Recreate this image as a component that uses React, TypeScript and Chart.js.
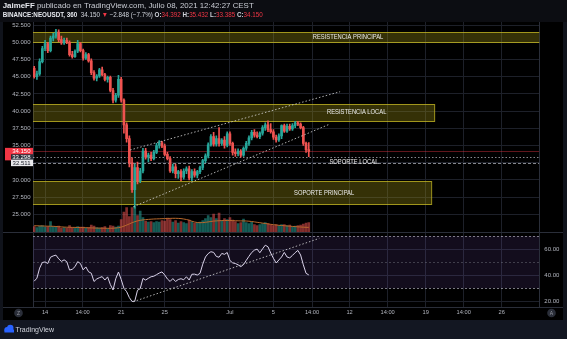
import React, { useEffect, useRef } from "react";
import { Chart, registerables } from "chart.js";

Chart.register(...registerables);

// ---------------- data ----------------
// x axis unit: day of June (July 1 = 31). Candles every 6 hours from June 13 00:00.
const firstCandleDay = 13;
const candleHours = 6;

const opens = [
  46.2, 45.0, 45.4, 47.2, 49.1, 49.8, 48.8, 50.6, 50.9, 51.5,
  50.4, 49.9, 50.3, 50.0, 48.2, 47.9, 48.7, 49.8, 48.8, 47.7,
  48.2, 47.3, 45.6, 44.8, 45.1, 46.0, 45.3, 44.6, 44.9, 43.0,
  41.6, 42.3, 44.6, 41.6, 38.0, 36.0, 32.5, 28.6, 31.8, 29.9,
  31.3, 34.2, 33.3, 33.6, 33.1, 34.0, 35.0, 35.4, 34.9, 33.7,
  33.1, 31.3, 31.9, 30.9, 31.2, 30.4, 31.3, 31.6, 30.3, 31.2,
  30.7, 31.2, 31.8, 32.8, 33.5, 35.1, 36.3, 35.2, 36.0, 35.3,
  35.8, 35.0, 36.7, 35.3, 34.0, 33.8, 34.2, 33.6, 34.6, 35.3,
  36.1, 36.9, 36.5, 36.3, 36.8, 37.6, 38.0, 37.3, 37.0, 36.2,
  35.8, 36.4, 37.9, 37.1, 37.8, 37.4, 37.9, 38.3, 38.1, 37.6,
  35.3, 34.392,
];
const highs = [
  46.5, 45.8, 47.6, 49.4, 50.3, 50.0, 50.9, 51.3, 51.9, 51.8,
  50.9, 50.6, 50.6, 50.2, 48.7, 48.9, 50.3, 50.0, 49.0, 48.5,
  48.4, 47.6, 45.9, 45.3, 46.2, 46.4, 45.5, 45.1, 45.1, 43.3,
  42.6, 45.2, 44.9, 41.8, 38.3, 36.4, 33.2, 32.3, 32.6, 31.7,
  34.6, 34.6, 33.9, 34.0, 34.3, 35.3, 35.7, 35.6, 35.2, 34.0,
  33.4, 32.3, 32.3, 31.4, 31.5, 31.6, 31.9, 32.0, 31.5, 31.6,
  31.4, 32.0, 33.0, 33.8, 35.4, 36.6, 36.9, 36.4, 37.6, 36.0,
  36.3, 37.0, 37.0, 35.5, 34.5, 34.5, 34.4, 34.8, 35.6, 36.4,
  37.2, 37.3, 37.0, 37.0, 37.9, 38.3, 38.6, 38.2, 37.3, 36.5,
  36.7, 38.0, 38.1, 38.1, 38.1, 38.2, 38.5, 38.5, 38.3, 37.8,
  35.5, 35.432,
];
const lows = [
  44.8, 44.6, 45.2, 47.0, 48.8, 48.5, 48.6, 50.2, 50.6, 50.1,
  49.7, 49.7, 49.8, 48.0, 47.7, 47.8, 48.5, 48.6, 47.4, 47.5,
  47.1, 45.3, 44.5, 44.4, 44.9, 45.1, 44.4, 44.2, 42.8, 41.2,
  41.3, 42.0, 41.3, 36.8, 35.5, 31.9, 28.2, 25.9, 29.4, 29.6,
  31.0, 33.0, 32.6, 32.8, 32.9, 33.8, 34.6, 34.7, 33.5, 32.9,
  31.1, 31.0, 30.3, 30.2, 29.9, 30.1, 30.9, 30.0, 29.9, 30.4,
  30.3, 30.9, 31.5, 32.5, 33.2, 34.9, 34.9, 34.9, 34.9, 35.0,
  34.6, 34.8, 35.0, 33.6, 33.4, 33.5, 33.3, 33.4, 34.3, 35.0,
  35.8, 36.2, 36.1, 36.0, 36.5, 37.2, 37.0, 36.8, 35.9, 35.5,
  35.6, 36.0, 36.9, 36.9, 37.2, 37.2, 37.6, 37.9, 37.4, 35.0,
  34.0, 33.385,
];
const closes = [
  45.0, 45.4, 47.2, 49.1, 49.8, 48.8, 50.6, 50.9, 51.5, 50.4,
  49.9, 50.3, 50.0, 48.2, 47.9, 48.7, 49.8, 48.8, 47.7, 48.2,
  47.3, 45.6, 44.8, 45.1, 46.0, 45.3, 44.6, 44.9, 43.0, 41.6,
  42.3, 44.6, 41.6, 38.0, 36.0, 32.5, 28.6, 31.8, 29.9, 31.3,
  34.2, 33.3, 33.6, 33.1, 34.0, 35.0, 35.4, 34.9, 33.7, 33.1,
  31.3, 31.9, 30.9, 31.2, 30.4, 31.3, 31.6, 30.3, 31.2, 30.7,
  31.2, 31.8, 32.8, 33.5, 35.1, 36.3, 35.2, 36.0, 35.3, 35.8,
  35.0, 36.7, 35.3, 34.0, 33.8, 34.2, 33.6, 34.6, 35.3, 36.1,
  36.9, 36.5, 36.3, 36.8, 37.6, 38.0, 37.3, 37.0, 36.2, 35.8,
  36.4, 37.9, 37.1, 37.8, 37.4, 37.9, 38.3, 38.1, 37.6, 35.3,
  34.39, 34.15,
];
// volume (thousand NEO)
const volumes = [
  50, 40, 55, 60, 45, 50, 100, 50, 45, 55,
  35, 40, 35, 60, 40, 35, 50, 45, 45, 35,
  40, 65, 55, 40, 35, 40, 50, 30, 60, 55,
  45, 55, 120, 195, 240, 150, 240, 250, 160, 205,
  140, 105, 95, 100, 90, 100, 95, 110, 105, 135,
  120, 95, 110, 85, 100, 90, 80, 115, 100, 85,
  90, 95, 110, 130, 160, 140, 175, 130, 185, 110,
  130, 120, 140, 115, 100, 80, 90, 125, 90, 80,
  95, 70, 60, 70, 80, 90, 80, 70, 60, 70,
  60, 70, 70, 60, 65, 50, 55, 60, 65, 75,
  85, 90,
];
const volumeMA = [
  60, 59, 58, 57, 56, 55, 55, 54, 52, 50,
  48, 46, 45, 44, 43, 43, 42, 42, 41, 40,
  39, 38, 37, 36, 36, 35, 35, 34, 34, 35,
  37, 40, 46, 55, 66, 78, 90, 100, 108, 114,
  118, 121, 123, 125, 127, 128, 129, 130, 131, 132,
  133, 134, 134, 133, 131, 127, 122, 115, 105, 97,
  92, 90, 91, 94, 98, 102, 106, 108, 110, 111,
  112, 112, 112, 111, 110, 109, 108, 108, 107, 105,
  102, 98, 94, 90, 86, 82, 78, 74, 70, 67,
  64, 62, 60, 57, 55, 53, 51, 49, 47, 45,
  44, 43,
];
const rsiValues = [
  35.5, 37.8, 45.5, 49.8, 50.2, 49.0, 53.8, 54.8, 55.4, 52.6,
  50.6, 51.8, 50.4, 44.0, 44.6, 46.6, 50.4, 49.0, 44.2, 46.4,
  42.7, 41.6, 35.3, 37.2, 38.2, 39.0, 36.4, 38.8, 33.0, 28.8,
  37.4, 42.5, 36.8, 30.1, 27.5, 23.0, 20.0, 20.3, 28.6, 29.8,
  37.6, 36.4, 37.7, 38.9, 39.3, 40.5, 41.7, 42.6, 40.3, 37.2,
  35.3, 37.5, 35.3, 36.8, 37.4, 36.6, 38.9, 36.4, 40.8, 40.9,
  40.2, 41.5, 48.5, 54.0, 56.6, 58.0, 57.5, 54.4, 53.8, 56.7,
  56.0, 57.4, 51.3, 49.5, 49.0, 48.0, 46.6, 48.2, 51.4, 54.5,
  57.4, 59.2, 60.0, 57.2, 60.2, 63.0, 61.8, 57.0, 53.0, 49.4,
  51.7, 54.0, 57.5, 54.0, 53.3, 55.2, 57.3, 59.0, 55.5, 48.0,
  41.5, 40.3,
];

const timeTickDays = [14, 17.45, 21, 25, 31, 35, 38.55, 42, 45.5, 49, 52.5, 56];
const timeTickLabels = ["14", "14:00", "21", "25", "Jul", "5", "14:00", "12", "14:00", "19", "14:00", "26"];
const priceTicks = [25, 27.5, 30, 32.5, 35, 37.5, 40, 42.5, 45, 47.5, 50, 52.5];
const rsiTicks = [20, 40, 60];
const rsiBandLevels = [70, 50, 30];

const zoneNames = ["RESISTENCIA PRINCIPAL", "RESISTENCIA LOCAL", "SOPORTE PRINCIPAL"];
const zoneTops = [51.54, 40.99, 29.84];
const zoneBottoms = [50.0, 38.6, 26.45];
const zoneEndDays = [62, 49.8, 49.5];
const zoneLabelDays = [41.86, 42.66, 39.66];

const localSupportName = "SOPORTE LOCAL";
const localSupportLevels = [33.298, 32.511];
const localSupportLabelDay = 42.4;
const localSupportLabelPrice = 32.65;
const lastPrice = 34.15;

const upperChannelDays = [21.82, 41.13];
const upperChannelPrices = [34.35, 42.82];
const lowerChannelDays = [22.12, 40.21];
const lowerChannelPrices = [26.1, 38.13];
const rsiTrendDays = [22.12, 39.22];
const rsiTrendValues = [19.85, 68.2];

const headerAuthor = "JaimeFF";
const headerPublished = " publicado en TradingView.com, Julio 08, 2021 12:42:27 CEST";
const headerSymbol = "BINANCE:NEOUSDT, 360";
const headerLast = "34.150";
const headerChange = "\u22122.848 (\u22127.7%)";
const headerOHLC = [
  ["O:", "34.392"],
  ["H:", "35.432"],
  ["L:", "33.385"],
  ["C:", "34.150"],
];

// ---------------- styling ----------------
const FONT = '"Liberation Sans", Arial, sans-serif';
const UP = "#26a69a";
const DOWN = "#ef5350";
const GRID = "#1d2029";
const AXIS = "#2a2e39";
const TEXT = "#b2b5be";
const NAVY = "#131722";

const X_MIN = 12.89;
const X_MAX = 59.45;
const P_MIN = 11.53;
const P_MAX = 52.95;
const R_MIN = 15.8;
const R_MAX = 233.4;
const V_MIN = -753;
const V_MAX = 2097;

function drawSegments(ctx: CanvasRenderingContext2D, segs: { t: string; c: string; b?: boolean }[], x: number, y: number, target: number, size: number) {
  let total = 0;
  for (const s of segs) {
    ctx.font = `${s.b ? "bold " : ""}${size}px ${FONT}`;
    total += ctx.measureText(s.t).width;
  }
  const f = target / total;
  ctx.save();
  ctx.translate(x, y);
  ctx.scale(f, 1);
  let cx = 0;
  for (const s of segs) {
    ctx.font = `${s.b ? "bold " : ""}${size}px ${FONT}`;
    ctx.fillStyle = s.c;
    ctx.fillText(s.t, cx, 0);
    cx += ctx.measureText(s.t).width;
  }
  ctx.restore();
}

function condensedText(ctx: CanvasRenderingContext2D, t: string, cx: number, cy: number) {
  ctx.save();
  ctx.font = `7px ${FONT}`;
  ctx.textAlign = "center";
  ctx.textBaseline = "middle";
  ctx.translate(cx, cy);
  ctx.scale(0.83, 1);
  ctx.fillStyle = "#ececec";
  ctx.fillText(t, 0, 0);
  ctx.restore();
}

const overlayPlugin = {
  id: "tvOverlay",
  beforeDraw(chart: any) {
    const { ctx, width, height } = chart;
    ctx.save();
    ctx.fillStyle = "#000";
    ctx.fillRect(0, 0, width, height);
    ctx.restore();
  },
  beforeDatasetsDraw(chart: any) {
    const { ctx, chartArea: a, scales } = chart;
    const xs = scales.x, ys = scales.y, rs = scales.rsi;
    ctx.save();
    ctx.beginPath();
    ctx.rect(a.left, a.top, a.right - a.left, a.bottom - a.top);
    ctx.clip();
    // RSI band
    const y70 = rs.getPixelForValue(rsiBandLevels[0]);
    const y30 = rs.getPixelForValue(rsiBandLevels[2]);
    ctx.fillStyle = "rgba(126,87,194,0.15)";
    ctx.fillRect(a.left, y70, a.right - a.left, y30 - y70);
    rsiBandLevels.forEach((lv, k) => {
      const yy = Math.round(rs.getPixelForValue(lv)) + 0.5;
      ctx.strokeStyle = k === 1 ? "rgba(120,123,134,0.45)" : "rgba(200,200,210,0.6)";
      ctx.lineWidth = 1;
      ctx.setLineDash([2, 2]);
      ctx.beginPath();
      ctx.moveTo(a.left, yy);
      ctx.lineTo(a.right, yy);
      ctx.stroke();
    });
    ctx.setLineDash([]);
    // zones
    zoneTops.forEach((top, k) => {
      const x0 = xs.getPixelForValue(X_MIN - 1);
      const x1 = xs.getPixelForValue(zoneEndDays[k]);
      const yT = Math.round(ys.getPixelForValue(top)) + 0.5;
      const yB = Math.round(ys.getPixelForValue(zoneBottoms[k])) + 0.5;
      ctx.fillStyle = "rgba(160,150,20,0.33)";
      ctx.fillRect(x0, yT, x1 - x0, yB - yT);
      ctx.strokeStyle = "rgba(195,182,35,0.8)";
      ctx.lineWidth = 1;
      ctx.strokeRect(x0, yT, Math.round(x1 - x0) + 0.5, yB - yT);
    });
    // last price line
    const yl = Math.round(ys.getPixelForValue(lastPrice)) + 0.5;
    ctx.strokeStyle = "rgba(242,54,69,0.4)";
    ctx.beginPath();
    ctx.moveTo(a.left, yl);
    ctx.lineTo(a.right, yl);
    ctx.stroke();
    // local support lines
    localSupportLevels.forEach((lv, k) => {
      const yy = Math.round(ys.getPixelForValue(lv)) + 0.5;
      ctx.strokeStyle = "rgba(190,192,200,0.7)";
      ctx.setLineDash(k === 0 ? [1.5, 2] : [3, 2]);
      ctx.beginPath();
      ctx.moveTo(a.left, yy);
      ctx.lineTo(a.right, yy);
      ctx.stroke();
    });
    ctx.setLineDash([]);
    ctx.restore();
  },
  afterDatasetsDraw(chart: any) {
    const { ctx, chartArea: a, scales, width } = chart;
    const xs = scales.x, ys = scales.y;
    ctx.save();
    // zone labels
    zoneNames.forEach((name, k) => {
      condensedText(ctx, name, xs.getPixelForValue(zoneLabelDays[k]), ys.getPixelForValue((zoneTops[k] + zoneBottoms[k]) / 2));
    });
    condensedText(ctx, localSupportName, xs.getPixelForValue(localSupportLabelDay), ys.getPixelForValue(localSupportLabelPrice));
    // pane separator
    const sep = Math.round(scales.vol.getPixelForValue(0)) + 0.5;
    ctx.strokeStyle = AXIS;
    ctx.lineWidth = 1;
    ctx.beginPath();
    ctx.moveTo(0, sep);
    ctx.lineTo(width, sep);
    ctx.stroke();
    const bot = Math.round(a.bottom) + 0.5;
    ctx.beginPath();
    ctx.moveTo(0, bot);
    ctx.lineTo(width, bot);
    ctx.stroke();
    // price badges
    ctx.font = `6px ${FONT}`;
    ctx.textAlign = "right";
    ctx.textBaseline = "middle";
    const yl = ys.getPixelForValue(lastPrice);
    ctx.fillStyle = "#f23645";
    ctx.fillRect(5, yl - 3.5, a.left - 5, 12.5);
    ctx.fillStyle = "#ffffff";
    ctx.fillText(lastPrice.toFixed(3), a.left - 2.5, yl);
    const y1 = ys.getPixelForValue(localSupportLevels[0]);
    ctx.fillStyle = "#2a2e39";
    ctx.fillRect(11, y1 - 3, a.left - 11, 6);
    ctx.fillStyle = "#ffffff";
    ctx.fillText(localSupportLevels[0].toFixed(3), a.left - 2.5, y1);
    const y2 = ys.getPixelForValue(localSupportLevels[1]);
    ctx.fillStyle = "#e9e9ec";
    ctx.fillRect(11, y2 - 3, a.left - 11, 6.5);
    ctx.fillStyle = "#131722";
    ctx.fillText(localSupportLevels[1].toFixed(3), a.left - 2.5, y2 + 0.3);
    ctx.restore();
  },
  afterDraw(chart: any) {
    const { ctx, width, height, chartArea: a } = chart;
    ctx.save();
    // header
    ctx.fillStyle = "#0c0d12";
    ctx.fillRect(0, 0, width, a.top);
    ctx.textBaseline = "middle";
    drawSegments(ctx, [
      { t: headerAuthor, c: "#e6e8ee", b: true },
      { t: headerPublished, c: "#c9ccd4" },
    ], 2.7, 6.3, 251, 7.3);
    const segs: { t: string; c: string; b?: boolean }[] = [
      { t: headerSymbol, c: "#e6e8ee", b: true },
      { t: "  " + headerLast + " ", c: "#d1d4dc" },
      { t: "\u25BC", c: "#f23645" },
      { t: " " + headerChange + " ", c: "#d1d4dc" },
    ];
    headerOHLC.forEach(([k, v], i) => {
      segs.push({ t: (i ? " " : "") + k, c: "#d1d4dc", b: true });
      segs.push({ t: v, c: "#f23645" });
    });
    drawSegments(ctx, segs, 2.7, 15.5, 260, 6.8);
    // side frame
    ctx.fillStyle = "#10131b";
    ctx.fillRect(0, a.top, 3, height - a.top);
    ctx.fillRect(width - 4, a.top, 4, height - a.top);
    // bottom strip
    ctx.fillStyle = NAVY;
    ctx.fillRect(0, 320, width, height - 320);
    // logo
    ctx.fillStyle = "#2962ff";
    ctx.beginPath();
    ctx.arc(7, 329.5, 2.6, 0, Math.PI * 2);
    ctx.arc(10.3, 328, 3.2, 0, Math.PI * 2);
    ctx.fill();
    ctx.fillRect(4.4, 329.5, 9.6, 3);
    ctx.fillStyle = "#d1d4dc";
    ctx.font = `7px ${FONT}`;
    ctx.textAlign = "left";
    ctx.textBaseline = "middle";
    ctx.fillText("TradingView", 15.5, 329.8);
    // round buttons
    [[18.5, "Z"], [551.5, "A"]].forEach(([cx, t]) => {
      ctx.fillStyle = "#2a2e39";
      ctx.beginPath();
      ctx.arc(cx as number, 313, 4.3, 0, Math.PI * 2);
      ctx.fill();
      ctx.fillStyle = "#9598a1";
      ctx.font = `5px ${FONT}`;
      ctx.textAlign = "center";
      ctx.fillText(t as string, cx as number, 313.3);
    });
    ctx.restore();
  },
};

export default function App() {
  const ref = useRef<HTMLCanvasElement>(null);
  useEffect(() => {
    const canvas = ref.current;
    if (!canvas) return;
    const days = closes.map((_, i) => firstCandleDay + (i * candleHours) / 24);
    const isUp = closes.map((c, i) => c >= opens[i]);
    const candleColors = isUp.map((u) => (u ? UP : DOWN));
    const volColors = isUp.map((u) => (u ? "rgba(38,166,154,0.55)" : "rgba(239,83,80,0.55)"));
    const dotted = { borderColor: "rgba(215,215,215,0.8)", borderWidth: 1, borderDash: [1.5, 2], pointRadius: 0, fill: false };

    const chart = new Chart(canvas, {
      type: "bar",
      data: {
        datasets: [
          {
            type: "bar",
            label: "Volumen",
            data: days.map((d, i) => ({ x: d, y: volumes[i] })),
            yAxisID: "vol",
            backgroundColor: volColors,
            barThickness: 2,
            maxBarThickness: 2,
            grouped: false,
            order: 10,
          } as any,
          {
            type: "line",
            label: "Vol MA",
            data: days.map((d, i) => ({ x: d, y: volumeMA[i] })),
            yAxisID: "vol",
            borderColor: "#b8682c",
            borderWidth: 1,
            pointRadius: 0,
            order: 9,
          } as any,
          {
            type: "bar",
            label: "Mechas",
            data: days.map((d, i) => ({ x: d, y: [lows[i], highs[i]] })),
            yAxisID: "y",
            backgroundColor: candleColors,
            barThickness: 1,
            maxBarThickness: 1,
            grouped: false,
            order: 6,
          } as any,
          {
            type: "bar",
            label: "Velas",
            data: days.map((d, i) => ({ x: d, y: [opens[i], closes[i]] })),
            yAxisID: "y",
            backgroundColor: candleColors,
            barThickness: 2,
            maxBarThickness: 2,
            minBarLength: 1,
            grouped: false,
            order: 5,
          } as any,
          {
            type: "line",
            label: "Canal superior",
            data: upperChannelDays.map((d, i) => ({ x: d, y: upperChannelPrices[i] })),
            yAxisID: "y",
            ...dotted,
            order: 2,
          } as any,
          {
            type: "line",
            label: "Canal inferior",
            data: lowerChannelDays.map((d, i) => ({ x: d, y: lowerChannelPrices[i] })),
            yAxisID: "y",
            ...dotted,
            order: 2,
          } as any,
          {
            type: "line",
            label: "RSI",
            data: days.map((d, i) => ({ x: d, y: rsiValues[i] })),
            yAxisID: "rsi",
            borderColor: "#d9d2e9",
            borderWidth: 1,
            pointRadius: 0,
            order: 3,
          } as any,
          {
            type: "line",
            label: "RSI tendencia",
            data: rsiTrendDays.map((d, i) => ({ x: d, y: rsiTrendValues[i] })),
            yAxisID: "rsi",
            ...dotted,
            order: 2,
          } as any,
        ],
      },
      options: {
        responsive: false,
        animation: false,
        devicePixelRatio: 1,
        events: [],
        layout: { padding: { top: 22, left: 0, right: 0, bottom: 0 } },
        plugins: { legend: { display: false }, tooltip: { enabled: false } },
        scales: {
          x: {
            type: "linear",
            min: X_MIN,
            max: X_MAX,
            offset: false,
            grid: { color: GRID, drawTicks: false, offset: false },
            border: { color: AXIS },
            ticks: {
              autoSkip: false,
              maxRotation: 0,
              padding: 2.5,
              color: TEXT,
              font: { family: FONT, size: 5.7 },
              callback: (_v: any, i: number) => timeTickLabels[i],
            },
            afterBuildTicks: (s: any) => {
              s.ticks = timeTickDays.map((v) => ({ value: v }));
            },
            afterFit: (s: any) => {
              s.height = 32;
            },
          },
          y: {
            type: "linear",
            position: "left",
            min: P_MIN,
            max: P_MAX,
            grid: { color: GRID, drawTicks: false },
            border: { color: AXIS },
            ticks: {
              autoSkip: false,
              padding: 2.5,
              color: TEXT,
              font: { family: FONT, size: 6 },
              callback: (v: any) => Number(v).toFixed(3),
            },
            afterBuildTicks: (s: any) => {
              s.ticks = priceTicks.map((v) => ({ value: v }));
            },
            afterFit: (s: any) => {
              s.width = 33;
            },
          },
          rsi: {
            type: "linear",
            position: "right",
            min: R_MIN,
            max: R_MAX,
            grid: { color: GRID, drawTicks: false },
            border: { color: AXIS },
            ticks: {
              autoSkip: false,
              padding: 5,
              color: TEXT,
              font: { family: FONT, size: 6 },
              callback: (v: any) => Number(v).toFixed(2),
            },
            afterBuildTicks: (s: any) => {
              s.ticks = rsiTicks.map((v) => ({ value: v }));
            },
            afterFit: (s: any) => {
              s.width = 27.7;
            },
          },
          vol: {
            type: "linear",
            display: false,
            min: V_MIN,
            max: V_MAX,
          },
        },
      } as any,
      plugins: [overlayPlugin],
    });
    return () => chart.destroy();
  }, []);

  return (
    <div style={{ position: "fixed", left: 0, top: 0, width: 567, height: 339, background: "#000" }}>
      <canvas ref={ref} width={567} height={339} style={{ display: "block", width: 567, height: 339 }} />
    </div>
  );
}
